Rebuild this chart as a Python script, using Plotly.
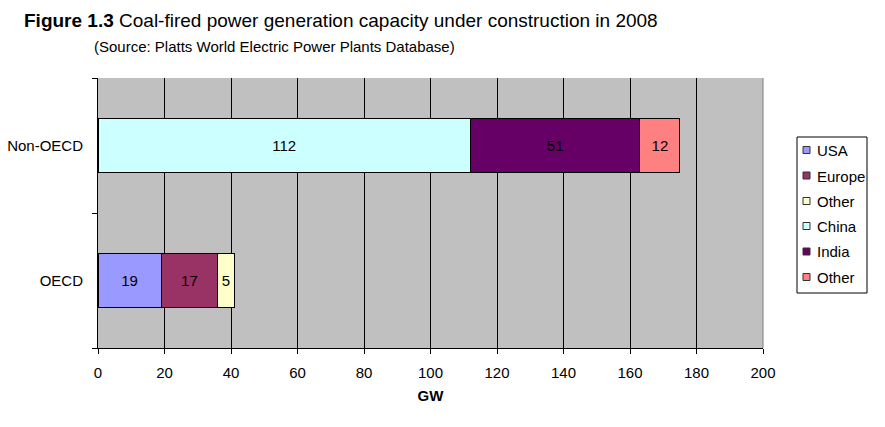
import plotly.graph_objects as go

categories = ["OECD", "Non-OECD"]
series_names = ["USA", "Europe", "Other", "China", "India", "Other"]
series_values = [
    [19, None],
    [17, None],
    [5, None],
    [None, 112],
    [None, 51],
    [None, 12],
]
series_colors = ["#9999FF", "#993366", "#FFFFCC", "#CCFFFF", "#660066", "#FF8080"]
x_ticks = [0, 20, 40, 60, 80, 100, 120, 140, 160, 180, 200]

FONT = "Liberation Sans, Arial, sans-serif"
W, H = 885, 427
ML, MR, MT, MB = 98, 122, 78, 79
PW, PH = W - ML - MR, H - MT - MB


def px(x):
    return (x - ML) / PW


def py(y):
    return (H - MB - y) / PH


fig = go.Figure()
for i, (name, vals, col) in enumerate(zip(series_names, series_values, series_colors)):
    fig.add_trace(go.Bar(
        y=categories, x=vals, name=name, orientation="h",
        marker=dict(color=col, line=dict(color="black", width=1)),
        width=0.4,
        text=[str(v) if v is not None else "" for v in vals],
        textposition="inside", insidetextanchor="middle",
        textfont=dict(color="black", size=15, family=FONT),
        showlegend=False,
        hoverinfo="skip",
    ))

annotations = [
    dict(text="<b>Figure 1.3</b> Coal-fired power generation capacity under construction in 2008",
         x=px(22), y=py(20), font=dict(size=19, family=FONT), xanchor="left", yanchor="middle"),
    dict(text="(Source: Platts World Electric Power Plants Database)",
         x=px(92), y=py(47), font=dict(size=15, family=FONT), xanchor="left", yanchor="middle"),
]
shapes = [
    dict(type="line", xref="paper", yref="paper", x0=1, x1=1, y0=0, y1=1,
         line=dict(color="#808080", width=1)),
    # legend box
    dict(type="rect", xref="paper", yref="paper", x0=px(797), x1=px(867), y0=py(137), y1=py(293),
         fillcolor="white", line=dict(color="black", width=1)),
]
legend_y = [150, 175.5, 201, 226, 251.5, 277]
for name, col, yc in zip(series_names, series_colors, legend_y):
    shapes.append(dict(type="rect", xref="paper", yref="paper",
                       x0=px(803), x1=px(810), y0=py(yc - 3.5), y1=py(yc + 3.5),
                       fillcolor=col, line=dict(color="#333333", width=1)))
    annotations.append(dict(text=name, x=px(815), y=py(yc + 0.5), xanchor="left", yanchor="middle",
                            font=dict(size=15, family=FONT)))
for a in annotations:
    a.update(xref="paper", yref="paper", showarrow=False)

fig.update_layout(
    barmode="stack",
    width=W, height=H,
    margin=dict(l=ML, r=MR, t=MT, b=MB, autoexpand=False),
    paper_bgcolor="white",
    plot_bgcolor="#C0C0C0",
    font=dict(family=FONT, size=15, color="black"),
    showlegend=False,
    xaxis=dict(
        range=[0, 200], tickvals=x_ticks, ticktext=[str(t) for t in x_ticks],
        showgrid=True, gridcolor="black", gridwidth=1,
        showline=True, linecolor="black", linewidth=1,
        ticks="outside", ticklen=5, tickcolor="black",
        zeroline=False,
        ticklabelstandoff=6,
        title=dict(text="<b>GW</b>", font=dict(size=15, family=FONT), standoff=10),
        tickfont=dict(size=15, family=FONT),
    ),
    yaxis=dict(
        type="category", categoryorder="array", categoryarray=categories,
        range=[-0.5, 1.5],
        showgrid=False, showline=True, linecolor="black", linewidth=1,
        ticks="outside", ticklen=5, tickcolor="black", tickson="boundaries",
        tickfont=dict(size=15, family=FONT),
        ticklabelstandoff=11,
    ),
    annotations=annotations,
    shapes=shapes,
)

fig.write_html("out.html")
